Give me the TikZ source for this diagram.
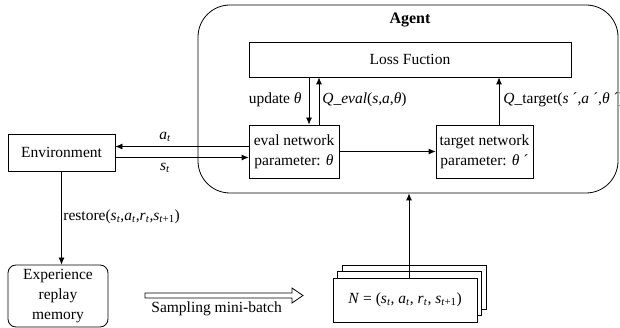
\documentclass[tikz,border=0pt]{standalone}
\usepackage{fontspec}
\setmainfont{Liberation Serif}
\usetikzlibrary{arrows.meta}
\newcommand\itsub[2]{\textit{#1}\textsubscript{\textit{#2}}}

\begin{document}
\begin{tikzpicture}[x=1pt,y=-1pt,
  line width=0.8pt,
  box/.style={draw, inner sep=0pt, align=center, font=\fontsize{15.5}{20}\selectfont},
  lbl/.style={inner sep=0pt, font=\fontsize{15.5}{19}\selectfont},
  arr/.style={-{Latex[length=7pt,width=6pt]}}]

\useasboundingbox (0,0) rectangle (620,328);

% Agent
\node[draw, rounded corners=32pt, minimum width=420pt, minimum height=188pt] (agent) at (408,99) {};
\node[lbl, font=\fontsize{16}{19}\selectfont\bfseries] (agtitle) at (410,20) {Agent};

% Boxes inside the agent
\node[box, minimum width=322pt, minimum height=35pt] (loss) at (410,59.5) {Loss Fuction};
\node[box, minimum width=90pt, minimum height=53pt] (eval) at (294,151.5) {eval network\\parameter: \textit{θ}};
\node[box, minimum width=97pt, minimum height=53pt] (target) at (484.5,151.5) {target network\\parameter: \textit{θ} ´};

% Environment and memory
\node[box, minimum width=107pt, minimum height=37pt] (env) at (61.5,152.5) {Environment};
\node[box, rounded corners=8pt, minimum width=100pt, minimum height=62pt] (mem) at (58,296) {Experience\\replay\\memory};

% Mini-batch stack
\node[box, fill=white, minimum width=144pt, minimum height=44pt] (nback) at (414,287) {};
\node[box, fill=white, minimum width=144pt, minimum height=44pt] (nmid) at (409.5,293.5) {};
\node[box, fill=white, minimum width=144pt, minimum height=44pt] (nfront) at (405,300) {\textit{N} = (\itsub{s}{t}, \itsub{a}{t}, \itsub{r}{t}, \textit{s}\textsubscript{\textit{t}+1})};

% Connectors
\coordinate (upd) at (309,0);
\coordinate (qev) at (319,0);
\coordinate (qtg) at (499,0);
\coordinate (nup) at (409,0);
\draw[arr] ([yshift=5pt]eval.west) -- ([yshift=5pt]eval.west -| env.east);
\draw[arr] ([yshift=-5pt]env.east) -- ([yshift=-5pt]env.east -| eval.west);
\draw[arr] (upd |- loss.south) -- (upd |- eval.north);
\draw[arr] (qev |- eval.north) -- (qev |- loss.south);
\draw[arr] (qtg |- target.north) -- (qtg |- loss.south);
\draw[arr] (eval.east) -- (target.west);
\draw[arr] (env.south) -- (env.south |- mem.north);
\draw[arr] (nup |- nfront.north) -- (nup |- agent.south);

% Hollow arrow
\coordinate (hs) at (145,295.5);
\draw (hs) ++(0,-2.5) -- ++(147,0) -- ++(0,-5) -- (303,295.5) -- (292,303) -- ++(0,-5) -- ++(-147,0) -- cycle;

% Labels
\node[lbl] (at) at (165,137) {\itsub{a}{t}};
\node[lbl] (st) at (165,168) {\itsub{s}{t}};
\node[lbl, anchor=east] (lupd) at (302,100) {update \textit{θ}};
\node[lbl, anchor=west] (lqev) at (322,100) {\textit{Q\_eval}(\textit{s},\textit{a},\textit{θ})};
\node[lbl, anchor=west] (lqtg) at (503,100) {\textit{Q}\_target(\textit{s} ´,\textit{a} ´,\textit{θ} ´)};
\node[lbl, anchor=west] (lres) at (63,217) {restore(\itsub{s}{t},\itsub{a}{t},\itsub{r}{t},\textit{s}\textsubscript{\textit{t}+1})};
\node[lbl, anchor=west] (lsmp) at (151,309) {Sampling mini-batch};

\end{tikzpicture}
\end{document}
